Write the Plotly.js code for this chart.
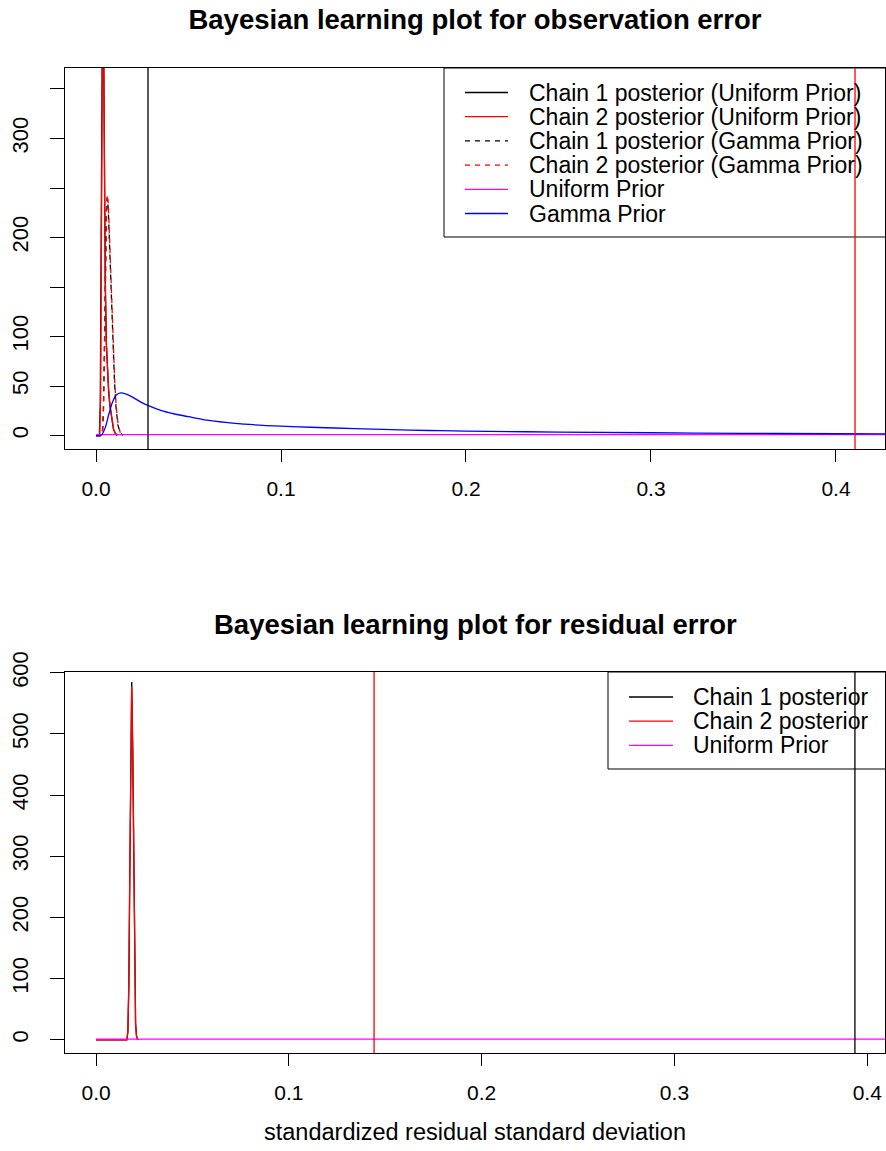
<!DOCTYPE html>
<html><head><meta charset="utf-8">
<script src="https://cdn.plot.ly/plotly-3.0.1.min.js"></script>
<style>html,body{margin:0;padding:0;background:#fff}</style>
</head><body><div id="chart" style="width:886px;height:1151px"></div>
<script>
// ---------- Top panel: observation error ----------
const obsC1UnifX = [0, 0.0018, 0.0023, 0.0028, 0.0032, 0.0036, 0.0040, 0.0044, 0.0050, 0.0056, 0.0062, 0.0068, 0.0075, 0.0085, 0.0095, 0.0105, 0.0115];
const obsC1UnifY = [0, 0, 30, 190, 400, 470, 430, 280, 160, 95, 62, 45, 30, 15, 6, 2, 0];
const obsC2UnifX = [0, 0.0020, 0.0025, 0.0030, 0.0034, 0.0037, 0.0040, 0.0044, 0.0050, 0.0056, 0.0062, 0.0068, 0.0075, 0.0085, 0.0095, 0.0105, 0.0115];
const obsC2UnifY = [0, 0, 40, 220, 420, 480, 440, 270, 150, 90, 62, 48, 32, 16, 6, 2, 0];
const obsC1GamX = [0, 0.0030, 0.0036, 0.0040, 0.0044, 0.0048, 0.0052, 0.0056, 0.0060, 0.0064, 0.0068, 0.0072, 0.0076, 0.0080, 0.0086, 0.0092, 0.0100, 0.0108, 0.0118, 0.0130, 0.0145];
const obsC1GamY = [0, 0, 6, 26, 70, 130, 186, 226, 240, 236, 220, 198, 176, 155, 123, 90, 54, 29, 11, 3, 0];
const obsC2GamX = [0, 0.0031, 0.0037, 0.0041, 0.0045, 0.0049, 0.0053, 0.0057, 0.0061, 0.0065, 0.0069, 0.0073, 0.0077, 0.0081, 0.0087, 0.0093, 0.0101, 0.0109, 0.0119, 0.0131, 0.0146];
const obsC2GamY = [0, 0, 8, 30, 75, 135, 190, 228, 243, 238, 222, 200, 178, 157, 125, 92, 55, 30, 12, 3, 0];
const obsUnifPriorX = [0, 0.43];
const obsUnifPriorY = [1, 1];
const obsGamPriorX = [0, 0.002, 0.003, 0.005, 0.007, 0.009, 0.011, 0.0135, 0.016, 0.02, 0.024, 0.028, 0.035, 0.042, 0.05, 0.06, 0.07, 0.08, 0.1, 0.12, 0.14, 0.16, 0.18, 0.2, 0.25, 0.3, 0.35, 0.4, 0.43];
const obsGamPriorY = [0, 0, 0.5, 8, 22, 34, 41, 43, 42, 38.5, 34, 30.5, 25.5, 22, 19, 15.5, 13.2, 11.5, 9.5, 8.1, 7.0, 6.0, 5.1, 4.5, 3.5, 2.8, 2.2, 1.8, 1.6];
const obsVLineX = [0.0281, 0.4103];
const obsXTicks = [0, 0.1, 0.2, 0.3, 0.4];
const obsXTickText = ['0.0', '0.1', '0.2', '0.3', '0.4'];
const obsYTicks = [0, 50, 100, 150, 200, 250, 300, 350];
const obsYTickText = ['0', '50', '100', '', '200', '', '300', ''];
const obsLegendNames = ['Chain 1 posterior (Uniform Prior)', 'Chain 2 posterior (Uniform Prior)', 'Chain 1 posterior (Gamma Prior)', 'Chain 2 posterior (Gamma Prior)', 'Uniform Prior', 'Gamma Prior'];

// ---------- Bottom panel: residual error ----------
const resX = [0, 0.0160, 0.0165, 0.0170, 0.0175, 0.0180, 0.0185, 0.0190, 0.0195, 0.0200, 0.0205, 0.0210, 0.0215, 0.0222];
const resC1Y = [0, 0, 12, 85, 265, 480, 585, 485, 285, 105, 28, 6, 1, 0];
const resC2Y = [0, 0, 15, 90, 270, 478, 578, 478, 278, 100, 25, 5, 1, 0];
const resUnifPriorX = [0, 0.42];
const resUnifPriorY = [1, 1];
const resVLineX = [0.1442, 0.3936];
const resXTicks = [0, 0.1, 0.2, 0.3, 0.4];
const resXTickText = ['0.0', '0.1', '0.2', '0.3', '0.4'];
const resYTicks = [0, 100, 200, 300, 400, 500, 600];
const resYTickText = ['0', '100', '200', '300', '400', '500', '600'];
const resLegendNames = ['Chain 1 posterior', 'Chain 2 posterior', 'Uniform Prior'];

// ---------- styles ----------
const FONT = 'Liberation Sans, Arial, Helvetica, sans-serif';
const LW = 1.3;
const BLACK = '#000000', RED = '#FF0000', MAGENTA = '#FF00FF', BLUE = '#0000FF';
const DASH = '5px,5px';
const obsStyles = [
  {color: BLACK, width: LW}, {color: RED, width: LW},
  {color: BLACK, width: LW, dash: DASH}, {color: RED, width: LW, dash: DASH},
  {color: MAGENTA, width: LW}, {color: BLUE, width: LW, shape: 'spline'}
];
const resStyles = [{color: BLACK, width: LW}, {color: RED, width: LW}, {color: MAGENTA, width: LW}];
const obsVLineColor = [BLACK, RED];
const resVLineColor = [RED, BLACK];

const obsSeries = [[obsC1UnifX, obsC1UnifY], [obsC2UnifX, obsC2UnifY], [obsC1GamX, obsC1GamY], [obsC2GamX, obsC2GamY], [obsUnifPriorX, obsUnifPriorY], [obsGamPriorX, obsGamPriorY]];
const resSeries = [[resX, resC1Y], [resX, resC2Y], [resUnifPriorX, resUnifPriorY]];

const traces = [];
obsSeries.forEach((s, i) => traces.push({type: 'scatter', mode: 'lines', x: s[0], y: s[1], name: obsLegendNames[i], line: obsStyles[i], xaxis: 'x', yaxis: 'y', hoverinfo: 'skip', showlegend: false}));
resSeries.forEach((s, i) => traces.push({type: 'scatter', mode: 'lines', x: s[0], y: s[1], name: resLegendNames[i], line: resStyles[i], xaxis: 'x2', yaxis: 'y2', hoverinfo: 'skip', showlegend: false}));

// pixel -> paper helpers (plot area: x 65..885, y 68..1053)
const W = 886, H = 1151, ML = 65, MR = 1, MT = 68, MB = 98;
const PW = W - ML - MR, PH = H - MT - MB;
const px = v => (v - ML) / PW;
const py = v => (H - MB - v) / PH;

const shapes = [];
const annotations = [];
obsVLineX.forEach((v, i) => shapes.push({type: 'line', xref: 'x', yref: 'y domain', x0: v, x1: v, y0: 0, y1: 1, line: {color: obsVLineColor[i], width: LW}, layer: 'above'}));
resVLineX.forEach((v, i) => shapes.push({type: 'line', xref: 'x2', yref: 'y2 domain', x0: v, x1: v, y0: 0, y1: 1, line: {color: resVLineColor[i], width: LW}, layer: 'above'}));

function addLegend(names, styles, box, rowY, lineX0, lineX1, textX, fontSize) {
  shapes.push({type: 'rect', xref: 'paper', yref: 'paper', x0: px(box[0]), x1: px(box[1]), y0: py(box[2]), y1: py(box[3]), line: {color: BLACK, width: 1}, fillcolor: 'rgba(0,0,0,0)', layer: 'below'});
  names.forEach((n, i) => {
    const yy = py(rowY[i]);
    shapes.push({type: 'line', xref: 'paper', yref: 'paper', x0: px(lineX0), x1: px(lineX1), y0: yy, y1: yy, line: {color: styles[i].color, width: LW, dash: styles[i].dash || 'solid'}, layer: 'below'});
    annotations.push({text: n, xref: 'paper', yref: 'paper', x: px(textX), y: yy, xanchor: 'left', yanchor: 'middle', showarrow: false, borderpad: 0, font: {family: FONT, size: fontSize, color: BLACK}});
  });
}
addLegend(obsLegendNames, obsStyles, [444, 886, 68, 237], [92.5, 116.7, 140.9, 165.1, 189.3, 213.5], 465, 508, 528, 23);
addLegend(resLegendNames, resStyles, [608, 886, 672, 769], [697, 721.2, 745.4], 629, 673, 692, 23);

annotations.push({text: 'Bayesian learning plot for residual error', xref: 'paper', yref: 'paper', x: 0.5, y: py(624), xanchor: 'center', yanchor: 'middle', showarrow: false, font: {family: FONT, size: 27.5, weight: 'bold', color: BLACK}});

const axBase = {
  showgrid: false, zeroline: false, showline: true, mirror: true,
  linecolor: BLACK, linewidth: 1, ticks: 'outside', tickcolor: BLACK,
  tickwidth: 1, fixedrange: true
};

const layout = {
  width: W, height: H,
  margin: {l: ML, r: MR, t: MT, b: MB},
  paper_bgcolor: '#ffffff', plot_bgcolor: '#ffffff',
  font: {family: FONT, color: BLACK},
  showlegend: false,
  title: {text: 'Bayesian learning plot for observation error', font: {family: FONT, size: 27.5, weight: 'bold', color: BLACK}, x: 0.5, xref: 'paper', y: 1 - 19 / H, yref: 'container', yanchor: 'middle'},
  xaxis: Object.assign({}, axBase, {domain: [0, 1], anchor: 'y', range: [-0.01676, 0.4265], tickvals: obsXTicks, ticktext: obsXTickText, ticklen: 12, tickfont: {size: 21}, ticklabelstandoff: 9}),
  yaxis: Object.assign({}, axBase, {domain: [py(449), 1], anchor: 'x', range: [-13.6, 371.2], tickvals: obsYTicks, ticktext: obsYTickText, ticklen: 14, tickangle: -90, tickfont: {size: 22}, ticklabelstandoff: 13}),
  xaxis2: Object.assign({}, axBase, {domain: [0, 1], anchor: 'y2', range: [-0.0161, 0.4092], tickvals: resXTicks, ticktext: resXTickText, ticklen: 12, tickfont: {size: 21}, ticklabelstandoff: 9,
    title: {text: 'standardized residual standard deviation', font: {size: 23.5}, standoff: 20}}),
  yaxis2: Object.assign({}, axBase, {domain: [0, py(672)], anchor: 'x2', range: [-21.7, 601.3], tickvals: resYTicks, ticktext: resYTickText, ticklen: 14, tickangle: -90, tickfont: {size: 22}, ticklabelstandoff: 13}),
  annotations: annotations,
  shapes: shapes
};

Plotly.newPlot('chart', traces, layout, {displayModeBar: false, staticPlot: true});
</script>
</body></html>
